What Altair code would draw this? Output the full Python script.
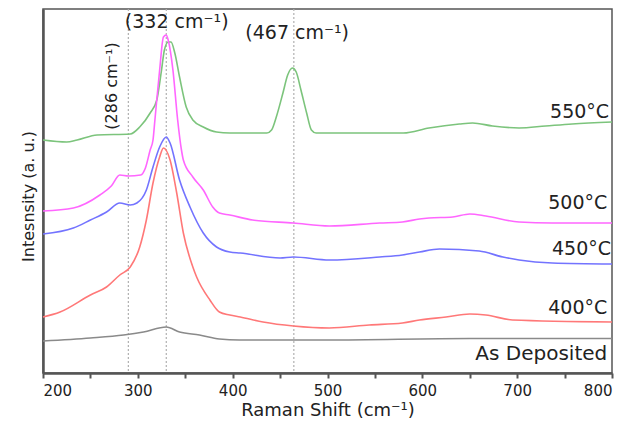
import altair as alt
import pandas as pd

# ---- data ----
series_names = ["550°C", "500°C", "450°C", "400°C", "As Deposited"]
series_colors = ["#7cc47c", "#ff66ff", "#7373ff", "#ff7878", "#8a8a8a"]

x_550 = [200, 225, 236, 257, 292, 302, 313, 320, 325, 328, 332, 335, 339, 344, 351, 358, 369, 383, 397, 436,
         441, 446, 453, 458, 463, 467, 472, 478, 483, 488, 530, 580, 607, 639, 653, 674, 702, 730, 758, 800]
y_550 = [233, 231, 233, 238, 239, 246, 260, 273, 303, 323, 331, 331, 320, 296, 266, 253, 246, 241, 240, 240,
         243, 256, 280, 298, 305, 301, 283, 260, 243, 240, 240, 240, 245, 249, 250, 247, 245, 247, 249, 251]

x_500 = [200, 232, 260, 272, 281, 290, 303, 308, 313, 316, 318, 323, 327, 330, 332, 337, 342, 346, 348, 358,
         369, 379, 386, 397, 421, 464, 502, 555, 579, 597, 607, 632, 650, 667, 702, 737, 800]
y_500 = [162, 165, 178, 187, 198, 197, 198, 205, 223, 233, 253, 303, 336, 338, 333, 303, 253, 223, 213, 196,
         183, 166, 160, 158, 153, 150, 147, 150, 151, 154, 155, 156, 159, 157, 151, 150, 150]

x_450 = [200, 232, 250, 267, 281, 292, 299, 309, 316, 323, 330, 334, 344, 355, 369, 383, 397, 408, 450, 464,
         502, 555, 579, 597, 618, 660, 685, 702, 737, 800]
y_450 = [139, 145, 153, 161, 170, 168, 170, 183, 206, 226, 236, 230, 193, 166, 140, 126, 121, 120, 115, 116,
         113, 116, 118, 121, 124, 122, 116, 113, 110, 109]

x_400 = [200, 218, 250, 267, 281, 292, 302, 309, 316, 323, 327, 334, 341, 348, 358, 362, 376, 386, 397, 408,
         432, 464, 502, 544, 579, 597, 625, 650, 667, 695, 800]
y_400 = [56, 61, 78, 86, 98, 106, 126, 153, 190, 216, 225, 213, 180, 140, 106, 96, 73, 61, 58, 56,
         51, 47, 45, 48, 50, 53, 56, 59, 58, 53, 51]

x_dep = [200, 250, 285, 306, 330, 344, 365, 386, 407, 500, 650, 800]
y_dep = [32, 35, 38, 41, 46, 41, 38, 34, 33, 33, 34.5, 34.5]

peak_lines = [290, 330, 464.5]

label_x = [797, 795, 799, 795, 795]
label_y = [261, 170, 124, 65, 19]
label_size = [19, 19, 19, 19, 20]

annot_text = ["(332 cm⁻¹)", "(467 cm⁻¹)", "(286 cm⁻¹)"]
annot_x = [341, 468, 272.6]
annot_y = [351, 340, 287]
annot_angle = [0, 0, 270]
annot_size = [19, 19, 16]

# ---- tables ----
rows = []
for name, xs, ys in zip(series_names,
                        [x_550, x_500, x_450, x_400, x_dep],
                        [y_550, y_500, y_450, y_400, y_dep]):
    for i, (a, b) in enumerate(zip(xs, ys)):
        rows.append({"series": name, "shift": a, "intensity": b, "order": i})
df = pd.DataFrame(rows)
lab = pd.DataFrame({"series": series_names, "x": label_x, "y": label_y, "size": label_size})
ann = pd.DataFrame({"text": annot_text, "x": annot_x, "y": annot_y, "angle": annot_angle,
                    "size": annot_size})
vl = pd.DataFrame({"x": peak_lines})

FONT = "DejaVu Sans"
xscale = alt.Scale(domain=[200, 800], nice=False)
yscale = alt.Scale(domain=[0, 364], nice=False)

rules = alt.Chart(vl).mark_rule(color="#b0b0b0", strokeDash=[2, 2], strokeWidth=1.2).encode(
    x=alt.X("x:Q", scale=xscale)
)

lines = alt.Chart(df).mark_line(strokeWidth=1.6, interpolate="monotone").encode(
    x=alt.X("shift:Q", scale=xscale,
            axis=alt.Axis(title="Raman Shift (cm⁻¹)", values=list(range(200, 801, 50)),
                          labelExpr="datum.value % 100 == 0 ? datum.label : ''",
                          grid=False, tickSize=5, tickWidth=2, tickColor="#555",
                          domainColor="#555", domainWidth=2.5,
                          labelFont=FONT, labelFontSize=15, labelColor="#222", labelPadding=5,
                          titleFont=FONT, titleFontSize=18, titleFontWeight="normal",
                          titleColor="#222", titlePadding=3)),
    y=alt.Y("intensity:Q", scale=yscale,
            axis=alt.Axis(title="Intesnsity (a. u.)", labels=False, ticks=False, grid=False,
                          domainColor="#555", domainWidth=2.5,
                          titleFont=FONT, titleFontSize=16, titleFontWeight="normal",
                          titleColor="#222", titlePadding=7, titleY=187)),
    color=alt.Color("series:N", scale=alt.Scale(domain=series_names, range=series_colors), legend=None),
    order="order:Q",
)

labels = alt.Chart(lab).mark_text(align="right", baseline="middle", font=FONT,
                                  color="#222").encode(
    x=alt.X("x:Q", scale=xscale), y=alt.Y("y:Q", scale=yscale), text="series:N",
    size=alt.Size("size:Q", scale=None)
)

annots = alt.Chart(ann).mark_text(align="center", baseline="middle", font=FONT,
                                  color="#222").encode(
    x=alt.X("x:Q", scale=xscale), y=alt.Y("y:Q", scale=yscale), text="text:N",
    angle=alt.Angle("angle:Q", scale=None),
    size=alt.Size("size:Q", scale=None)
)

chart = alt.layer(rules, lines, labels, annots).properties(
    width=569, height=364,
    autosize=alt.AutoSizeParams(type="none"),
    padding={"left": 35, "top": 1, "right": 15, "bottom": 48},
).configure_view(stroke="#555", strokeWidth=1.5)

chart.save("out.html", embed_options={"renderer": "svg", "actions": False})
